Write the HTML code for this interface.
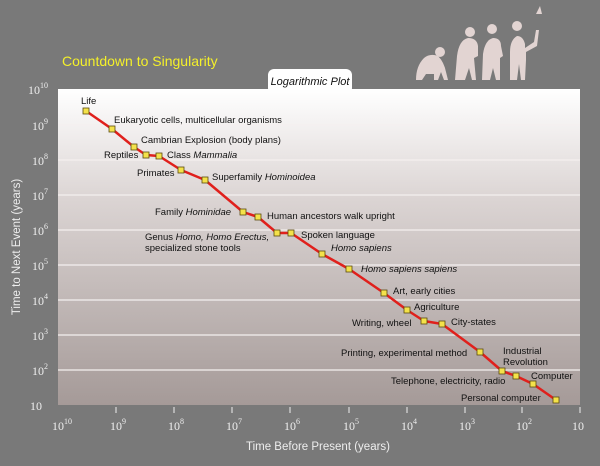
<!DOCTYPE html>
<html><head><style>
body{margin:0;width:600px;height:461px;overflow:hidden;background:#797979}
text{font-family:"Liberation Sans",sans-serif}
.s{font-family:"Liberation Serif",serif;fill:#eee;font-size:12px}
.l{font-size:9.5px;fill:#111}
</style></head><body>
<svg width="600" height="461" viewBox="0 0 600 461">
<defs><linearGradient id="g" x1="0" y1="0" x2="0" y2="1">
<stop offset="0" stop-color="#ffffff"/><stop offset="0.35" stop-color="#dbd4d3"/><stop offset="1" stop-color="#a59a98"/></linearGradient></defs>
<rect width="600" height="461" fill="#797979"/>
<text x="62" y="66" font-size="14" fill="#f4f02a">Countdown to Singularity</text>
<rect x="268" y="69" width="84" height="25" rx="6" fill="#fff"/>
<text x="310" y="85" font-size="11" font-style="italic" text-anchor="middle" fill="#111">Logarithmic Plot</text>
<g fill="#e2d4d2">
<circle cx="440" cy="52" r="5"/>
<path d="M416 80 q0-14 8-22 q6-5 14-2 q6 6 8 16 l2 8 -4 0 -3-8 -3 8 -4 0 0-6 -8 0 -4 6z"/>
<circle cx="470" cy="32" r="5"/>
<path d="M455 80 l2-24 q2-16 11-18 q9 0 10 8 l0 10 -4 2 2 22 -4 0 -3-12 -4 12z"/>
<circle cx="492" cy="29" r="5"/>
<path d="M482 80 l1-26 q2-14 10-16 q8 0 8 8 l2 10 -3 2 0 22 -4 0 -3-12 -3 12z"/>
<circle cx="517" cy="26" r="5"/>
<path d="M510 80 l0-28 q0-12 7-16 q6 0 8 8 l0 4 9-6 2-12 3 0 -2 16 -11 6 0 8 -1 20 -4 0 -2-16 -2 16z"/>
<path d="M536 14 l4-8 2 8z"/>
</g>
<rect x="58" y="89" width="522" height="316" fill="url(#g)"/>
<g stroke="#f4f0ef" stroke-width="1.2">
<line x1="58" y1="125" x2="580" y2="125"/><line x1="58" y1="160" x2="580" y2="160"/><line x1="58" y1="195" x2="580" y2="195"/><line x1="58" y1="230" x2="580" y2="230"/><line x1="58" y1="265" x2="580" y2="265"/><line x1="58" y1="300" x2="580" y2="300"/><line x1="58" y1="335" x2="580" y2="335"/><line x1="58" y1="370" x2="580" y2="370"/>
</g>
<g stroke="#eee" stroke-width="1">
<line x1="116" y1="407" x2="116" y2="413"/><line x1="174" y1="407" x2="174" y2="413"/><line x1="232" y1="407" x2="232" y2="413"/><line x1="290" y1="407" x2="290" y2="413"/><line x1="349" y1="407" x2="349" y2="413"/><line x1="407" y1="407" x2="407" y2="413"/><line x1="465" y1="407" x2="465" y2="413"/><line x1="522" y1="407" x2="522" y2="413"/><line x1="580" y1="407" x2="580" y2="413"/>
</g>
<g class="s" text-anchor="end">
<text x="48" y="94" class="s">10<tspan font-size="8" dy="-6">10</tspan></text>
<text x="48" y="130" class="s">10<tspan font-size="8" dy="-6">9</tspan></text>
<text x="48" y="165" class="s">10<tspan font-size="8" dy="-6">8</tspan></text>
<text x="48" y="200" class="s">10<tspan font-size="8" dy="-6">7</tspan></text>
<text x="48" y="235" class="s">10<tspan font-size="8" dy="-6">6</tspan></text>
<text x="48" y="270" class="s">10<tspan font-size="8" dy="-6">5</tspan></text>
<text x="48" y="305" class="s">10<tspan font-size="8" dy="-6">4</tspan></text>
<text x="48" y="340" class="s">10<tspan font-size="8" dy="-6">3</tspan></text>
<text x="48" y="375" class="s">10<tspan font-size="8" dy="-6">2</tspan></text>
<text x="42" y="410" class="s">10</text>
</g>
<g class="s" text-anchor="middle">
<text x="62" y="430" class="s">10<tspan font-size="8" dy="-6">10</tspan></text>
<text x="118" y="430" class="s">10<tspan font-size="8" dy="-6">9</tspan></text>
<text x="176" y="430" class="s">10<tspan font-size="8" dy="-6">8</tspan></text>
<text x="234" y="430" class="s">10<tspan font-size="8" dy="-6">7</tspan></text>
<text x="292" y="430" class="s">10<tspan font-size="8" dy="-6">6</tspan></text>
<text x="351" y="430" class="s">10<tspan font-size="8" dy="-6">5</tspan></text>
<text x="409" y="430" class="s">10<tspan font-size="8" dy="-6">4</tspan></text>
<text x="467" y="430" class="s">10<tspan font-size="8" dy="-6">3</tspan></text>
<text x="524" y="430" class="s">10<tspan font-size="8" dy="-6">2</tspan></text>
<text x="578" y="430" class="s">10</text>
</g>
<text x="318" y="450" font-size="11.5" fill="#eee" text-anchor="middle">Time Before Present (years)</text>
<text transform="translate(20,247) rotate(-90)" font-size="11.5" fill="#eee" text-anchor="middle">Time to Next Event (years)</text>
<polyline fill="none" stroke="#e0201c" stroke-width="2.5" stroke-linejoin="round" points="86,111 112,129 134,147 146,155 159,156 181,170 205,180 243,212 258,217 277,233 291,233 322,254 349,269 384,293 407,310 424,321 442,324 480,352 502,371 516,376 533,384 556,400"/>
<g fill="#f4e24a" stroke="#5a4a10" stroke-width="0.8">
<rect x="83" y="108" width="6" height="6"/><rect x="109" y="126" width="6" height="6"/><rect x="131" y="144" width="6" height="6"/><rect x="143" y="152" width="6" height="6"/><rect x="156" y="153" width="6" height="6"/><rect x="178" y="167" width="6" height="6"/><rect x="202" y="177" width="6" height="6"/><rect x="240" y="209" width="6" height="6"/><rect x="255" y="214" width="6" height="6"/><rect x="274" y="230" width="6" height="6"/><rect x="288" y="230" width="6" height="6"/><rect x="319" y="251" width="6" height="6"/><rect x="346" y="266" width="6" height="6"/><rect x="381" y="290" width="6" height="6"/><rect x="404" y="307" width="6" height="6"/><rect x="421" y="318" width="6" height="6"/><rect x="439" y="321" width="6" height="6"/><rect x="477" y="349" width="6" height="6"/><rect x="499" y="368" width="6" height="6"/><rect x="513" y="373" width="6" height="6"/><rect x="530" y="381" width="6" height="6"/><rect x="553" y="397" width="6" height="6"/>
</g>
<g class="l">
<text x="81" y="104" class="l">Life</text>
<text x="114" y="123" class="l">Eukaryotic cells, multicellular organisms</text>
<text x="141" y="143" class="l">Cambrian Explosion (body plans)</text>
<text x="104" y="158" class="l">Reptiles</text>
<text x="167" y="158" class="l">Class <tspan font-style="italic">Mammalia</tspan></text>
<text x="137" y="176" class="l">Primates</text>
<text x="212" y="180" class="l">Superfamily <tspan font-style="italic">Hominoidea</tspan></text>
<text x="155" y="215" class="l">Family <tspan font-style="italic">Hominidae</tspan></text>
<text x="267" y="219" class="l">Human ancestors walk upright</text>
<text x="145" y="240" class="l">Genus <tspan font-style="italic">Homo, Homo Erectus,</tspan></text>
<text x="145" y="251" class="l">specialized stone tools</text>
<text x="301" y="238" class="l">Spoken language</text>
<text x="331" y="251" class="l" font-style="italic">Homo sapiens</text>
<text x="361" y="272" class="l" font-style="italic">Homo sapiens sapiens</text>
<text x="393" y="294" class="l">Art, early cities</text>
<text x="414" y="310" class="l">Agriculture</text>
<text x="352" y="326" class="l">Writing, wheel</text>
<text x="451" y="325" class="l">City-states</text>
<text x="341" y="356" class="l">Printing, experimental method</text>
<text x="503" y="354" class="l">Industrial</text>
<text x="503" y="365" class="l">Revolution</text>
<text x="391" y="384" class="l">Telephone,  electricity, radio</text>
<text x="531" y="379" class="l">Computer</text>
<text x="461" y="401" class="l">Personal computer</text>
</g>
</svg>
</body></html>
